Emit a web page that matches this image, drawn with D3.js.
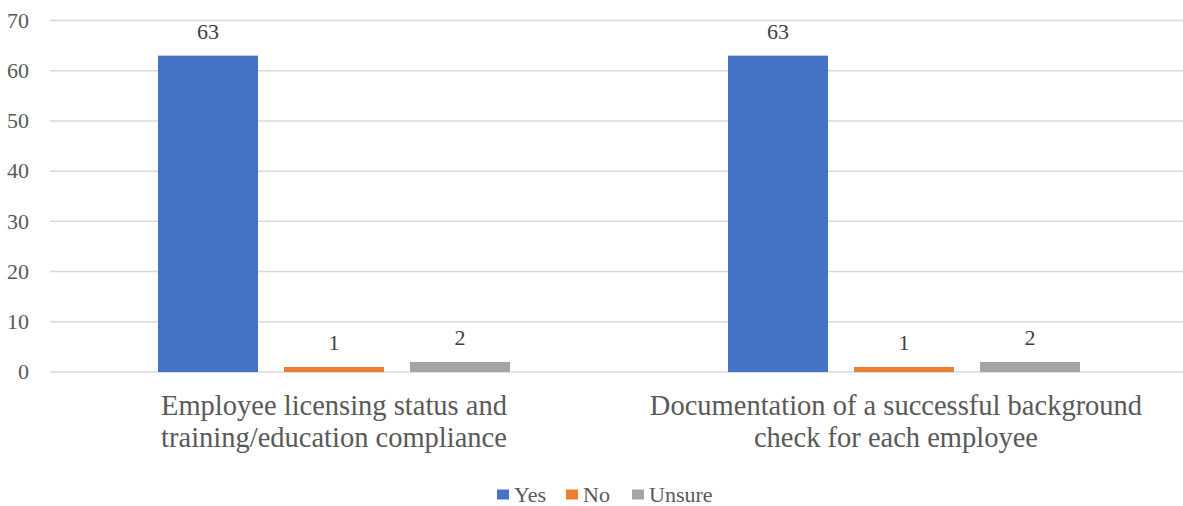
<!DOCTYPE html>
<meta charset="utf-8">
<body style="margin:0">
<script src="https://d3js.org/d3.v7.min.js"></script>
<script>
// data
var categories = [
  ["Employee licensing status and", "training/education compliance"],
  ["Documentation of a successful background", "check for each employee"]
];
var series = ["Yes", "No", "Unsure"];
var values = [
  [63, 1, 2],
  [63, 1, 2]
];
var colors = ["#4472C4", "#ED7D31", "#A5A5A5"];
var yTicks = [0, 10, 20, 30, 40, 50, 60, 70];

var W = 1183, H = 506;
var FONT = "'Liberation Serif'";

var svg = d3.select("body").append("svg")
  .attr("width", W)
  .attr("height", H);

// scales
var y = d3.scaleLinear().domain([0, 70]).range([372, 20.5]);
var x0 = d3.scaleBand().domain(d3.range(categories.length)).range([49, 1189]);
var x1 = d3.scaleBand().domain(series).range([109, 461]).paddingInner(26 / 126);

// gridlines
svg.append("g")
  .selectAll("line")
  .data(yTicks)
  .join("line")
    .attr("x1", 50)
    .attr("x2", W)
    .attr("y1", function (d) { return y(d); })
    .attr("y2", function (d) { return y(d); })
    .attr("stroke", "#D9D9D9")
    .attr("stroke-width", 1.5);

// y tick labels
svg.append("g")
  .selectAll("text")
  .data(yTicks)
  .join("text")
    .attr("x", 29)
    .attr("y", function (d) { return y(d); })
    .attr("dy", "0.33em")
    .attr("text-anchor", "end")
    .attr("fill", "#595959")
    .style("font-family", FONT)
    .style("font-size", "22px")
    .text(function (d) { return d; });

// bars
var groups = svg.append("g")
  .selectAll("g")
  .data(values)
  .join("g")
    .attr("transform", function (d, i) { return "translate(" + x0(i) + ",0)"; });

groups.selectAll("rect")
  .data(function (d) { return d.map(function (v, j) { return { s: series[j], v: v, j: j }; }); })
  .join("rect")
    .attr("x", function (d) { return x1(d.s); })
    .attr("y", function (d) { return y(d.v); })
    .attr("width", x1.bandwidth())
    .attr("height", function (d) { return y(0) - y(d.v); })
    .attr("fill", function (d) { return colors[d.j]; });

// data labels
groups.selectAll("text")
  .data(function (d) { return d.map(function (v, j) { return { s: series[j], v: v }; }); })
  .join("text")
    .attr("x", function (d) { return x1(d.s) + x1.bandwidth() / 2; })
    .attr("y", function (d) { return y(d.v) - 17; })
    .attr("text-anchor", "middle")
    .attr("fill", "#404040")
    .style("font-family", FONT)
    .style("font-size", "22px")
    .text(function (d) { return d.v; });

// category labels
var catLabels = svg.append("g")
  .selectAll("text")
  .data(categories)
  .join("text")
    .attr("x", function (d, i) { return x0(i) + x0.bandwidth() / 2 - i * 8; })
    .attr("y", 415)
    .attr("text-anchor", "middle")
    .attr("fill", "#595959")
    .style("font-family", FONT)
    .style("font-size", "28.5px");

catLabels.selectAll("tspan")
  .data(function (d) { return d; })
  .join("tspan")
    .attr("x", function () { return d3.select(this.parentNode).attr("x"); })
    .attr("dy", function (d, i) { return i === 0 ? 0 : 32; })
    .text(function (d) { return d; });

// legend
var legendX = [497, 566, 632];
var legend = svg.append("g")
  .selectAll("g")
  .data(series)
  .join("g")
    .attr("transform", function (d, i) { return "translate(" + legendX[i] + ",489.5)"; });

legend.append("rect")
  .attr("width", 12)
  .attr("height", 10)
  .attr("fill", function (d, i) { return colors[i]; });

legend.append("text")
  .attr("x", 17)
  .attr("y", 12.5)
  .attr("fill", "#595959")
  .style("font-family", FONT)
  .style("font-size", "22px")
  .text(function (d) { return d; });
</script>
</body>
